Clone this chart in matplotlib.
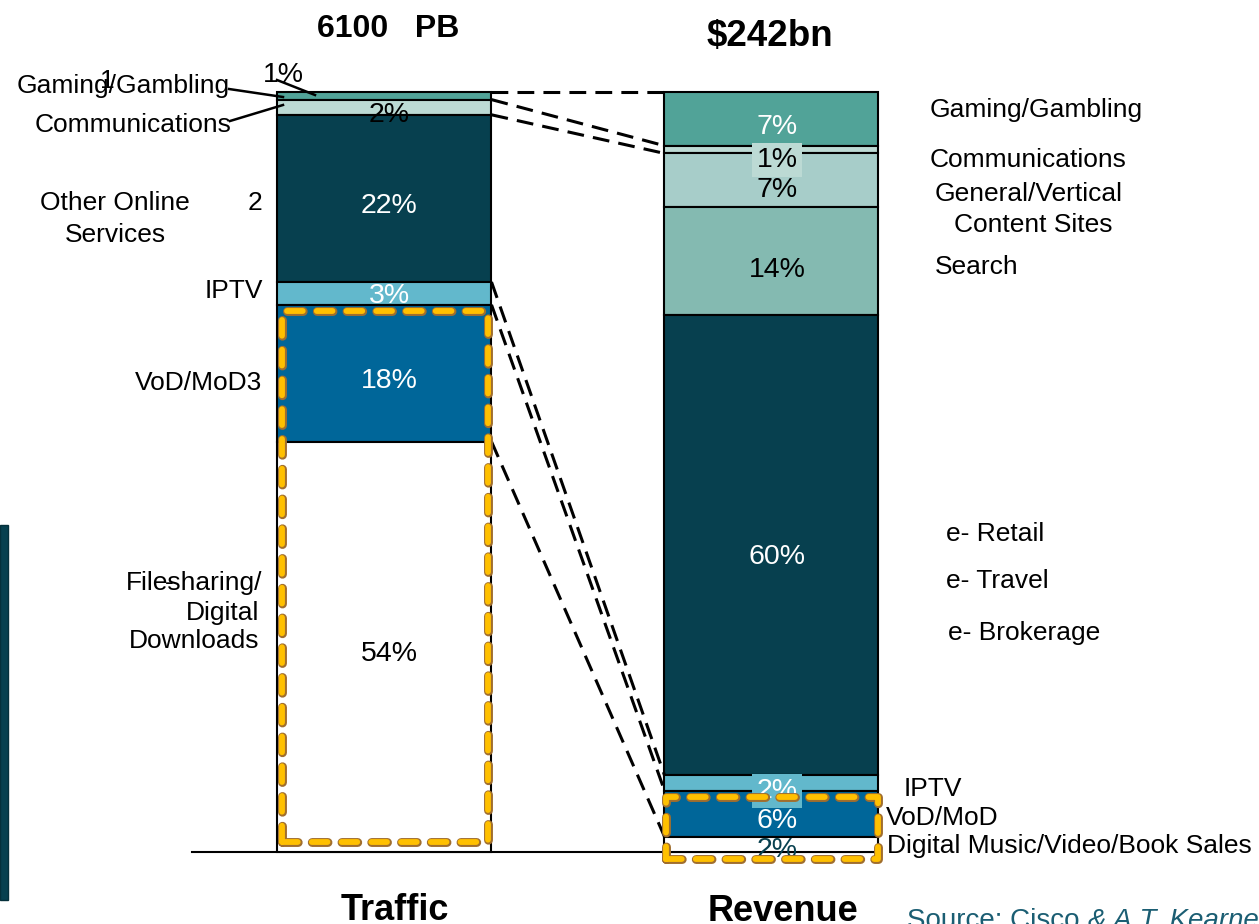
import matplotlib.pyplot as plt
from matplotlib.patches import Rectangle
import matplotlib.patheffects as pe
import numpy as np

plt.rcParams['font.family'] = ['Liberation Sans', 'DejaVu Sans']

# traffic split (PB), top to bottom
traffic_total = '6100   PB'
traffic_cats = ['Gaming/Gambling', 'Communications', 'Other Online Services',
                'IPTV', 'VoD/MoD', 'File-sharing/Digital Downloads']
traffic_share = [1, 2, 22, 3, 18, 54]
traffic_colors = ['#51A398', '#BCDAD4', '#07404F', '#62B8CC', '#006699', '#FFFFFF']

# revenue split, top to bottom
revenue_total = '$242bn'
revenue_cats = ['Gaming/Gambling', 'Communications', 'General/Vertical Content Sites',
                'Search', 'e-Commerce', 'IPTV', 'VoD/MoD', 'Digital Music/Video/Book Sales']
revenue_share = [7, 1, 7, 14, 60, 2, 6, 2]
revenue_colors = ['#51A398', '#BCDAD4', '#A7CDC9', '#84BAB1', '#07404F', '#62B8CC',
                  '#006699', '#FFFFFF']

PX = 7.6      # pixels per percent
BASE = 852    # pixel row of the 0 line


def Y(p):
    # pixel row -> data value
    return (BASE - p) / PX


def stack(share):
    h = np.array(share, dtype=float)
    h = h / h.sum() * 100
    tops = 100 - np.concatenate([[0], np.cumsum(h)[:-1]])
    return h, tops - h


fig = plt.figure(figsize=(12.59, 9.24), dpi=100)
ax = fig.add_axes([0, 0, 1, 1])
ax.set_xlim(0, 1259)
ax.set_ylim(Y(924), Y(0))
ax.axis('off')

xl, xr, bw = 384.5, 771.5, 214

th, tb = stack(traffic_share)
rh, rb = stack(revenue_share)

ax.plot([192, 880], [0, 0], color='black', lw=1.5, zorder=1)

ax.bar(xl, th, bottom=tb, width=bw, color=traffic_colors, edgecolor='black', lw=1.5, zorder=2)
ax.bar(xr, rh, bottom=rb, width=bw, color=revenue_colors, edgecolor='black', lw=1.5, zorder=2)

# dashed connectors between the two bars
lt = tb + th
rt = rb + rh
pairs = [(lt[0], rt[0]), (lt[1], rt[1]), (lt[2], rt[2]),
         (lt[3], rt[5]), (lt[4], rt[6]), (lt[5], rt[7])]
for a, b in pairs:
    ax.plot([xl + bw / 2, xr - bw / 2], [a, b], color='black', lw=2.2,
            dashes=(5.5, 3), zorder=3)

# yellow highlight boxes
def highlight(x0, x1, y0, y1):
    r = Rectangle((x0, y0), x1 - x0, y1 - y0, fill=False, edgecolor='#FFC000',
                  lw=4.2, linestyle=(0, (2.7, 2.4)), zorder=5)
    r.set_capstyle('round')
    r.set_joinstyle('round')
    r.set_path_effects([pe.Stroke(linewidth=6.4, foreground='#A06E2E'), pe.Normal()])
    ax.add_patch(r)

highlight(282, 488, Y(842), Y(311))
highlight(666, 878, Y(859), Y(797))

# odd dark strip on the left edge
ax.add_patch(Rectangle((0, Y(900)), 8, Y(525) - Y(900), facecolor='#07404F',
                       edgecolor='#05303B', lw=1, zorder=1))

pct = dict(ha='center', va='baseline', fontsize=20.5)
lab = dict(va='baseline', fontsize=19)

# percent labels, traffic
t_txt = [(283, 82, 'black'), (389, 122, 'black'), (389, 213, 'white'),
         (389, 303, 'white'), (389, 388, 'white'), (389, 661, 'black')]
for i, (x, b, c) in enumerate(t_txt):
    ax.text(x, Y(b), f'{traffic_share[i]}%', color=c, **pct)

# percent labels, revenue
r_txt = [(134, 'white', None), (167, 'black', '#BCDAD4'), (197, 'black', None),
         (277, 'black', None), (564, 'white', None), (798, 'white', '#62B8CC'),
         (828, 'white', None), (857, '#07404F', None)]
for i, (b, c, bg) in enumerate(r_txt):
    t = ax.text(777, Y(b), f'{revenue_share[i]}%', color=c, zorder=4, **pct)
    if bg:
        t.set_bbox(dict(facecolor=bg, edgecolor='none', pad=3))

# left category labels
ax.text(230, Y(93), 'Gaming/Gambling', ha='right', **lab)
ax.text(107, Y(88), '1', ha='center', **lab)
ax.text(232, Y(132), 'Communications', ha='right', **lab)
ax.text(115, Y(210), 'Other Online', ha='center', **lab)
ax.text(115, Y(242), 'Services', ha='center', **lab)
ax.text(255, Y(210), '2', ha='center', **lab)
ax.text(263, Y(298), 'IPTV', ha='right', **lab)
ax.text(262, Y(390), 'VoD/MoD3', ha='right', **lab)
ax.text(262, Y(590), 'Filesharing/', ha='right', **lab)
ax.text(169, Y(590), '-', ha='center', **lab)
ax.text(259, Y(620), 'Digital', ha='right', **lab)
ax.text(259, Y(648), 'Downloads', ha='right', **lab)

# leader lines
for (x0, y0), (x1, y1) in [((229, 89), (283, 97)), ((277, 80), (315, 95)),
                           ((230, 121), (283, 105))]:
    ax.plot([x0, x1], [Y(y0), Y(y1)], color='black', lw=1.8, zorder=6)

# right category labels
ax.text(930, Y(117), 'Gaming/Gambling', ha='left', **lab)
ax.text(930, Y(167), 'Communications', ha='left', **lab)
ax.text(1029, Y(201), 'General/Vertical', ha='center', **lab)
ax.text(1033, Y(232), 'Content Sites', ha='center', **lab)
ax.text(935, Y(274), 'Search', ha='left', **lab)
ax.text(946, Y(541), 'e- Retail', ha='left', **lab)
ax.text(946, Y(588), 'e- Travel', ha='left', **lab)
ax.text(948, Y(640), 'e- Brokerage', ha='left', **lab)
ax.text(904, Y(796), 'IPTV', ha='left', **lab)
ax.text(886, Y(825), 'VoD/MoD', ha='left', **lab)
ax.text(887, Y(853), 'Digital Music/Video/Book Sales', ha='left', **lab)

# totals and bar names
ax.text(388, Y(37), traffic_total, ha='center', va='baseline', fontsize=23, fontweight='bold')
ax.text(770, Y(46), revenue_total, ha='center', va='baseline', fontsize=26.5, fontweight='bold')
ax.text(395, Y(920), 'Traffic', ha='center', va='baseline', fontsize=26, fontweight='bold')
ax.text(783, Y(921), 'Revenue', ha='center', va='baseline', fontsize=26, fontweight='bold')

ax.text(907, Y(928), 'Source: Cisco', ha='left', va='baseline', fontsize=20, color='#1B5E73')
ax.text(1088, Y(928), '& A.T. Kearney', ha='left', va='baseline', fontsize=20,
        color='#1B5E73', style='italic')

fig.savefig('out.png', dpi=100)
